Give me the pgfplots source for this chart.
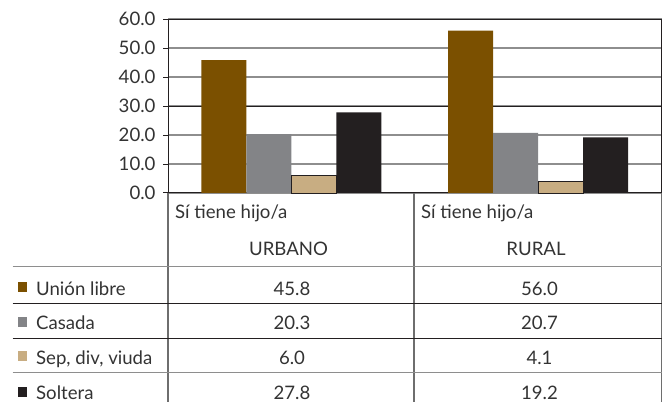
\documentclass[border=0pt]{standalone}
\usepackage{pgfplots}
\pgfplotsset{compat=1.18}
\usepackage{fontspec}
\setmainfont{Lato}
\definecolor{cUnion}{HTML}{7B5000}
\definecolor{cCasada}{HTML}{838487}
\definecolor{cSep}{HTML}{C8AD82}
\definecolor{cSol}{HTML}{231F20}
\definecolor{txt}{HTML}{333333}
\definecolor{gridc}{HTML}{8E8E8E}
\definecolor{linec}{HTML}{6E6E6E}
\begin{document}
\begin{tikzpicture}[x=1pt,y=1pt,font=\fontsize{18.6}{20}\selectfont\color{txt}]
\useasboundingbox (0,0) rectangle (663,402);
\begin{axis}[
  at={(168pt,209pt)}, anchor=south west,
  scale only axis, width=493.5pt, height=174pt,
  xmin=-0.5, xmax=1.5, ymin=0, ymax=60,
  xtick=\empty,
  ytick={0,10,20,30,40,50,60},
  ytick pos=left,
  tick align=outside,
  major tick length=5pt,
  ytick style={cSol, line width=1pt},
  yticklabel style={/pgf/number format/fixed, /pgf/number format/fixed zerofill, /pgf/number format/precision=1, /pgf/number format/assume math mode=true},
  yticklabel style={font=\fontsize{18.6}{20}\selectfont\color{txt}, xshift=-4pt},
  ymajorgrids,
  grid style={gridc, line width=1.3pt},
  extra y ticks={30},
  extra y tick labels={},
  extra y tick style={grid style={cSol, line width=1pt}},
  axis line style={cSol, line width=1pt},
  ybar=0pt, bar width=45pt,
  clip=false,
]
\addplot[fill=cUnion, draw=none] coordinates {(0,45.8) (1,56.0)};
\addplot[fill=cCasada, draw=none] coordinates {(0,20.3) (1,20.7)};
\addplot[fill=cSep, draw=cSol, line width=0.8pt] coordinates {(0,6.0) (1,4.1)};
\addplot[fill=cSol, draw=none] coordinates {(0,27.8) (1,19.2)};
\end{axis}
% table grid
\draw[linec, line width=1.3pt] (168,209) -- (168,0);
\draw[linec, line width=1.3pt] (414,209) -- (414,0);
\draw[linec, line width=1.3pt] (661.5,209) -- (661.5,0);
\draw[gridc, line width=1.3pt] (12.5,135.3) -- (661.5,135.3);
\draw[cSol, line width=1pt] (12.5,98.7) -- (661.5,98.7);
\draw[cSol, line width=1pt] (12.5,63.7) -- (661.5,63.7);
\draw[gridc, line width=1.3pt] (12.5,29.3) -- (661.5,29.3);
% header
\node[anchor=base west, inner sep=0] at (175,183.7) {Sí tiene hijo/a};
\node[anchor=base west, inner sep=0] at (421,183.7) {Sí tiene hijo/a};
\node[anchor=base, inner sep=0] at (288.5,147) {URBANO};
\node[anchor=base, inner sep=0] at (536,147) {RURAL};
% rows
\fill[cUnion] (18,109.8) rectangle (27,119.8);
\node[anchor=base west, inner sep=0] at (36,107) {Unión libre};
\node[anchor=base, inner sep=0] at (292,107) {45.8};
\node[anchor=base, inner sep=0] at (539.5,107) {56.0};
\fill[cCasada] (18,75.2) rectangle (27,85.2);
\node[anchor=base west, inner sep=0] at (36,72.5) {Casada};
\node[anchor=base, inner sep=0] at (292,72.5) {20.3};
\node[anchor=base, inner sep=0] at (539.5,72.5) {20.7};
\fill[cSep] (18,40.8) rectangle (27,50.8);
\node[anchor=base west, inner sep=0] at (36,38) {Sep, div, viuda};
\node[anchor=base, inner sep=0] at (292,38) {6.0};
\node[anchor=base, inner sep=0] at (539.5,38) {4.1};
\fill[cSol] (18,5.5) rectangle (27,15.5);
\node[anchor=base west, inner sep=0] at (36,2.7) {Soltera};
\node[anchor=base, inner sep=0] at (292,2.7) {27.8};
\node[anchor=base, inner sep=0] at (539.5,2.7) {19.2};
\end{tikzpicture}
\end{document}
